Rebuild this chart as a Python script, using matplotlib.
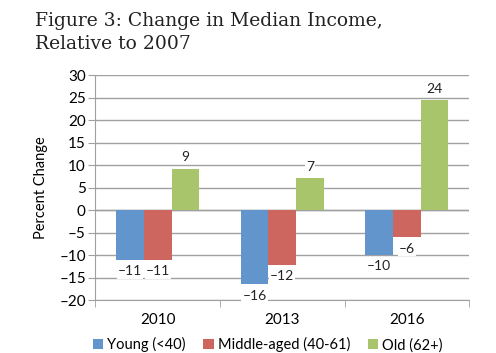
import numpy as np
import matplotlib
matplotlib.use("Agg")
import matplotlib.pyplot as plt

years = ["2010", "2013", "2016"]
groups = ["Young (<40)", "Middle-aged (40-61)", "Old (62+)"]
young = [-11.1, -16.5, -10.0]
middle = [-11.1, -12.2, -6.1]
old = [9.2, 7.1, 24.4]
labels = [["\u201311", "\u201316", "\u201310"],
          ["\u201311", "\u201312", "\u20136"],
          ["9", "7", "24"]]
colors = ["#6195CB", "#CE6660", "#A8C56B"]

plt.rcParams["font.family"] = ["Lato", "DejaVu Sans"]

fig = plt.figure(figsize=(4.96, 3.53), dpi=100)
ax = fig.add_axes([0.1925, 0.150, 0.7531, 0.6375])

x = np.arange(len(years))
w = 0.222
grid_c = "#A0A0A0"
for i, (vals, c) in enumerate(zip([young, middle, old], colors)):
    pos = x + (i - 1) * w
    ax.bar(pos, vals, width=w, color=c, label=groups[i], zorder=3)
    for p, v, t in zip(pos, vals, labels[i]):
        off = 1.2 if v > 0 else -1.2
        ax.text(p, v + off, t, ha="center", va="bottom" if v > 0 else "top",
                fontsize=10, color="#222222", zorder=4,
                bbox=dict(facecolor="white", edgecolor="none", pad=0.8))

ax.set_xlim(-0.5, 2.5)
ax.set_ylim(-20, 30)
ax.set_yticks(range(-20, 31, 5))
ax.set_yticklabels([str(v).replace("-", "\u2013") for v in range(-20, 31, 5)])
ax.yaxis.grid(True, color=grid_c, linewidth=1.0, zorder=0)
ax.axhline(0, color=grid_c, linewidth=1.0, zorder=2)
ax.set_xticks(x)
ax.set_xticklabels(years)
ax.set_xticks([-0.5, 0.5, 1.5, 2.5], minor=True)
ax.tick_params(axis="x", which="major", length=0, labelsize=11, pad=9)
ax.tick_params(axis="x", which="minor", length=5, color=grid_c)
ax.tick_params(axis="y", length=5, color=grid_c, labelsize=11, pad=2)
for s in ["top", "right"]:
    ax.spines[s].set_visible(False)
ax.spines["left"].set_color(grid_c)
ax.spines["bottom"].set_color(grid_c)
ax.set_ylabel("Percent Change", fontsize=10.5, labelpad=8)

fig.legend(loc="lower center", bbox_to_anchor=(0.54, -0.035), ncol=3,
           frameon=False, fontsize=10.5, handlelength=0.7, handleheight=0.7,
           handletextpad=0.3, columnspacing=1.2)

fig.text(0.07, 0.965, "Figure 3: Change in Median Income,\nRelative to 2007",
         fontsize=13.5, family=["DejaVu Serif"], color="#222222",
         va="top", linespacing=1.35)

fig.savefig("out.png", dpi=100)
